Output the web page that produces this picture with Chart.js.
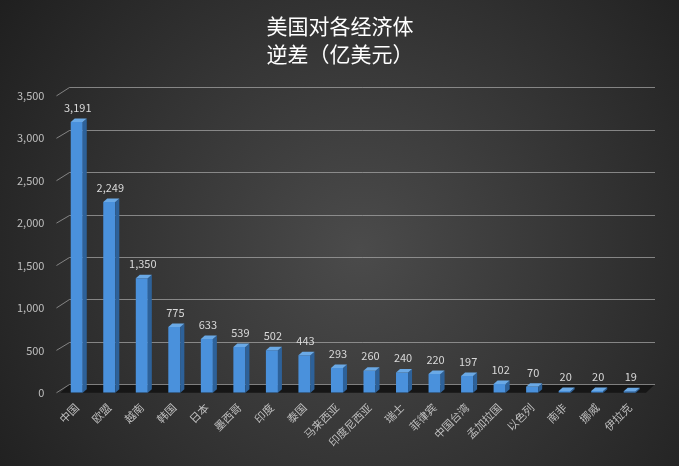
<!DOCTYPE html>
<html>
<head>
<meta charset="utf-8">
<script src="https://cdn.jsdelivr.net/npm/chart.js@4.4.1/dist/chart.umd.min.js"></script>
<style>
  html, body { margin: 0; padding: 0; background: #2a2a2a; }
  #wrap { width: 679px; height: 466px; }
</style>
</head>
<body>
<div id="wrap"><canvas id="chart" width="679" height="466"></canvas></div>
<script>
// 数据
var categories = ['中国', '欧盟', '越南', '韩国', '日本', '墨西哥', '印度', '泰国', '马来西亚',
    '印度尼西亚', '瑞士', '菲律宾', '中国台湾', '孟加拉国', '以色列', '南非', '挪威', '伊拉克'];
var deficits = [3191, 2249, 1350, 775, 633, 539, 502, 443, 293, 260, 240, 220, 197, 102, 70, 20, 20, 19];
var yTickValues = [0, 500, 1000, 1500, 2000, 2500, 3000, 3500];
var titleLines = ['美国对各经济体', '逆差（亿美元）'];

var FONT = '"Noto Sans CJK SC", "Open Sans", sans-serif';
var WALL_DX = 9, WALL_DY = 8.5;   // 背景墙偏移
var BAR_DX = 4, BAR_DY = 3.5;     // 柱子厚度

function fmt(v) {
    return v.toLocaleString('en-US');
}

// 背景、地板、网格线
var backdrop = {
    id: 'backdrop',
    beforeDraw: function(chart) {
        var ctx = chart.ctx;
        var area = chart.chartArea;
        var y = chart.scales.y;
        ctx.save();
        var g = ctx.createRadialGradient(360, 250, 0, 360, 250, 460);
        g.addColorStop(0, '#4b4b4b');
        g.addColorStop(1, '#1d1d1d');
        ctx.fillStyle = g;
        ctx.fillRect(0, 0, chart.width, chart.height);

        // 地板
        var y0 = y.getPixelForValue(0);
        ctx.fillStyle = '#161616';
        ctx.beginPath();
        ctx.moveTo(area.left, y0);
        ctx.lineTo(area.right, y0);
        ctx.lineTo(area.right + WALL_DX, y0 - WALL_DY);
        ctx.lineTo(area.left + WALL_DX, y0 - WALL_DY);
        ctx.closePath();
        ctx.fill();

        // 网格线 + 斜线刻度
        ctx.strokeStyle = 'rgba(170,170,170,0.7)';
        ctx.lineWidth = 1;
        yTickValues.forEach(function(v) {
            var py = Math.round(y.getPixelForValue(v) - WALL_DY) + 0.5;
            ctx.beginPath();
            ctx.moveTo(area.left + WALL_DX, py);
            ctx.lineTo(area.right + WALL_DX, py);
            ctx.stroke();
            ctx.beginPath();
            ctx.moveTo(area.left - 4, y.getPixelForValue(v));
            ctx.lineTo(area.left + WALL_DX, py);
            ctx.stroke();
        });
        ctx.restore();
    }
};

// 柱子侧面、顶面和数值标签
var bars3d = {
    id: 'bars3d',
    afterDatasetsDraw: function(chart) {
        var ctx = chart.ctx;
        var meta = chart.getDatasetMeta(0);
        ctx.save();
        meta.data.forEach(function(bar, i) {
            var p = bar.getProps(['x', 'y', 'base', 'width'], true);
            var l = p.x - p.width / 2, r = p.x + p.width / 2;
            // 侧面
            ctx.fillStyle = '#2d6199';
            ctx.beginPath();
            ctx.moveTo(r, p.base);
            ctx.lineTo(r, p.y);
            ctx.lineTo(r + BAR_DX, p.y - BAR_DY);
            ctx.lineTo(r + BAR_DX, p.base - BAR_DY);
            ctx.closePath();
            ctx.fill();
            // 顶面
            ctx.fillStyle = '#6aa9e6';
            ctx.beginPath();
            ctx.moveTo(l, p.y);
            ctx.lineTo(r, p.y);
            ctx.lineTo(r + BAR_DX, p.y - BAR_DY);
            ctx.lineTo(l + BAR_DX, p.y - BAR_DY);
            ctx.closePath();
            ctx.fill();
            // 数值
            ctx.fillStyle = '#d9d9d9';
            ctx.font = '11px ' + FONT;
            ctx.textAlign = 'center';
            ctx.textBaseline = 'middle';
            ctx.fillText(fmt(deficits[i]), p.x + 1, p.y - BAR_DY - 11);
        });
        ctx.restore();
    }
};

var ctx = document.getElementById('chart').getContext('2d');

new Chart(ctx, {
    type: 'bar',
    data: {
        labels: categories,
        datasets: [{
            label: '逆差（亿美元）',
            data: deficits,
            backgroundColor: '#4a91dc',
            borderWidth: 0,
            barPercentage: 0.37,
            categoryPercentage: 1.0
        }]
    },
    options: {
        responsive: false,
        devicePixelRatio: 1,
        animation: false,
        layout: { padding: { left: 1, right: 0, top: 0, bottom: 9 } },
        plugins: {
            legend: { display: false },
            tooltip: { enabled: false },
            title: {
                display: true,
                text: titleLines,
                color: '#ffffff',
                font: { family: FONT, size: 21, weight: 'normal', lineHeight: 1.33 },
                padding: { top: 12, bottom: 28 }
            }
        },
        scales: {
            x: {
                grid: { display: false, drawTicks: false },
                border: { display: false },
                ticks: {
                    color: '#bfbfbf',
                    font: { family: FONT, size: 11 },
                    minRotation: 45,
                    maxRotation: 45,
                    autoSkip: false,
                    padding: 8
                }
            },
            y: {
                min: 0,
                max: 3500,
                grid: { display: false, drawTicks: false },
                border: { display: false },
                ticks: {
                    stepSize: 500,
                    color: '#bfbfbf',
                    font: { family: FONT, size: 11 },
                    padding: 16,
                    callback: function(v) { return fmt(v); }
                }
            },
            // 右侧留白
            yRight: {
                position: 'right',
                display: true,
                grid: { display: false, drawTicks: false },
                border: { display: false },
                ticks: { display: false },
                afterFit: function(scale) { scale.width = 33; }
            }
        }
    },
    plugins: [backdrop, bars3d]
});
</script>
</body>
</html>
